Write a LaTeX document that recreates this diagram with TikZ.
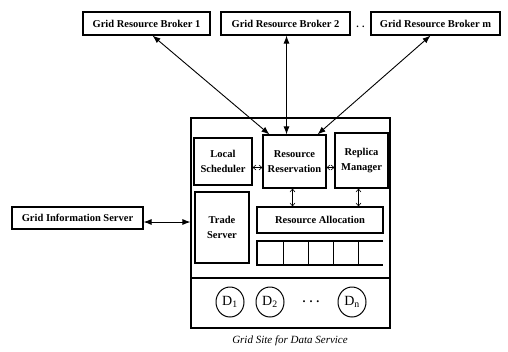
\documentclass[tikz,border=0pt]{standalone}
\usepackage{fontspec}
\setmainfont{Liberation Serif}
\usetikzlibrary{arrows.meta,shapes.geometric}

\tikzset{
  box/.style={draw, line width=1.1pt, inner sep=0pt, align=center,
    font=\bfseries\fontsize{10.5}{14.5}\selectfont},
  bigarrow/.style={line width=0.9pt, {Latex[length=8pt,width=6pt]}-{Latex[length=8pt,width=6pt]}},
  smallarrow/.style={line width=0.6pt, {Straight Barb[length=3pt,width=5pt]}-{Straight Barb[length=3pt,width=5pt]}},
  disk/.style={draw, ellipse, line width=1pt, minimum width=28pt, minimum height=30pt, inner sep=0pt,
    font=\fontsize{14}{16}\selectfont},
}

\begin{document}
\begin{tikzpicture}[x=1pt,y=-1pt]
\useasboundingbox (0,0) rectangle (508,351);

% resource brokers
\node[box, minimum width=127pt, minimum height=23pt] (b1) at (146.5,23.5) {Grid Resource Broker 1};
\node[box, minimum width=129pt, minimum height=23pt] (b2) at (285.5,23.5) {Grid Resource Broker 2};
\node[box, minimum width=129pt, minimum height=23pt] (bm) at (435.5,23.5) {Grid Resource Broker m};
\node[font=\bfseries] (bdots) at (360.5,27) {.\,\,.};

% grid site enclosure
\node[draw, line width=1.1pt, minimum width=199pt, minimum height=210pt, inner sep=0pt] (site) at (290.5,223) {};
\coordinate (divL) at (191,278);
\coordinate (divR) at (390,278);
\draw[line width=1.1pt] (divL) -- (divR);

% site components
\node[box, minimum width=58pt, minimum height=47pt] (ls) at (223,161.5) {Local\\Scheduler};
\node[box, minimum width=63pt, minimum height=53pt] (res) at (294.5,161.5) {Resource\\Reservation};
\node[box, minimum width=53pt, minimum height=55pt] (rep) at (361.5,160.5) {Replica\\Manager};
\node[box, minimum width=54pt, minimum height=71pt] (ts) at (222,227.5) {Trade\\Server};
\node[box, minimum width=126pt, minimum height=26pt] (alloc) at (320,220) {Resource Allocation};

% queue of slots
\coordinate (qa) at (257,241);
\coordinate (qb) at (383,241);
\coordinate (qc) at (383,265);
\coordinate (qd) at (257,265);
\draw[line width=1.1pt] (qb) -- (qa) -- (qd) -- (qc);
\foreach \x in {283,308,333,358} \draw[line width=0.8pt] (\x,241) -- (\x,265);

% data stores
\node[disk] (d1) at (230,302) {D\textsubscript{1}};
\node[disk] (d2) at (270,302) {D\textsubscript{2}};
\node[disk] (dn) at (352,302) {D\textsubscript{n}};
\node[font=\bfseries\large] (ddots) at (311,302) {.\,\,.\,\,.};

\node[font=\itshape\fontsize{11}{13}\selectfont] (cap) at (290,341) {Grid Site for Data Service};

% information server
\node[box, minimum width=131pt, minimum height=22pt] (gis) at (77.5,218) {Grid Information Server};

% connectors
\draw[bigarrow] ([xshift=6pt]b1.south) -- ([xshift=7pt]res.north west);
\draw[bigarrow] ([xshift=1pt]b2.south) -- ([xshift=1pt]b2.south |- res.north);
\draw[bigarrow] ([xshift=-5pt]bm.south) -- ([xshift=-9pt]res.north east);
\draw[bigarrow] ([yshift=-4pt]gis.east) -- ([yshift=-4pt]gis.east -| site.west);

\draw[smallarrow] ([yshift=-6pt]ls.east) -- ([yshift=-6pt]ls.east -| res.west);
\draw[smallarrow] ([yshift=-6pt]res.east) -- ([yshift=-6pt]res.east -| rep.west);
\draw[smallarrow] ([xshift=-2pt]res.south) -- ([xshift=-2pt]res.south |- alloc.north);
\draw[smallarrow] ([xshift=-3pt]rep.south) -- ([xshift=-3pt]rep.south |- alloc.north);
\end{tikzpicture}
\end{document}
